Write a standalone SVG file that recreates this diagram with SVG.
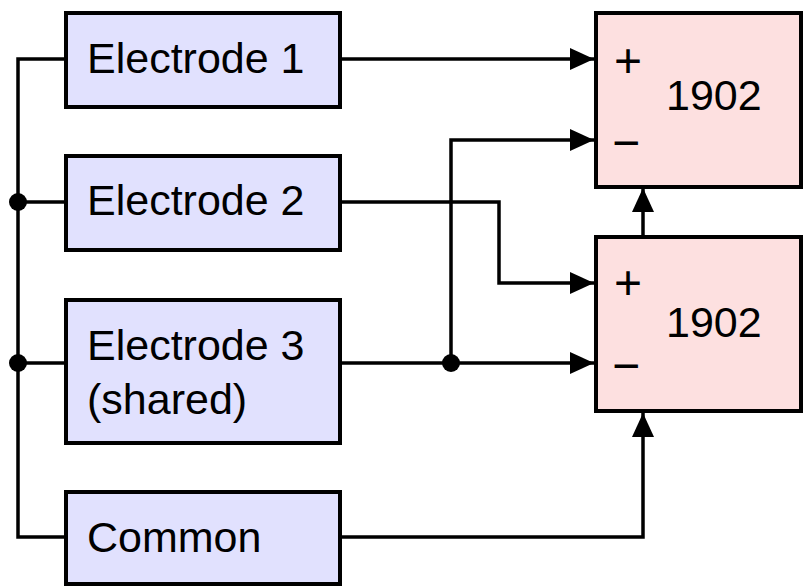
<svg xmlns="http://www.w3.org/2000/svg" width="803" height="586" viewBox="0 0 803 586">
  <style>
    .src rect { fill: #e1e1fe; stroke: #000; stroke-width: 4; }
    .amp rect { fill: #fde0e0; stroke: #000; stroke-width: 4; }
    text { font-family: "Liberation Sans", Arial, sans-serif; font-size: 43px; fill: #000; }
    text.sign { font-size: 48px; }
    .wire { fill: none; stroke: #000; stroke-width: 3.5; }
    .arrow { marker-end: url(#head); }
  </style>
  <defs>
    <marker id="head" viewBox="0 0 24 22" refX="24" refY="11" markerWidth="24" markerHeight="22" markerUnits="userSpaceOnUse" orient="auto">
      <path d="M0,0 L24,11 L0,22 Z" fill="#000"/>
    </marker>
  </defs>

  <g id="connectors">
    <!-- common bus on the left -->
    <path class="wire" d="M65,59 H18 V537 H65"/>
    <path class="wire" d="M18,202 H65"/>
    <path class="wire" d="M18,363 H65"/>
    <circle cx="18" cy="202" r="9"/>
    <circle cx="18" cy="363" r="9"/>
    <!-- electrode 1 to upper + -->
    <path class="wire arrow" d="M340,59 H594"/>
    <!-- electrode 3 tap to upper - -->
    <path class="wire arrow" d="M451,363 V140 H594"/>
    <!-- electrode 2 to lower + -->
    <path class="wire arrow" d="M340,202 H499 V283 H594"/>
    <!-- electrode 3 to lower - -->
    <path class="wire arrow" d="M340,363 H594"/>
    <circle cx="451" cy="363" r="9"/>
    <!-- common to lower amplifier reference -->
    <path class="wire arrow" d="M340,537 H643 V413"/>
    <!-- lower amplifier output to upper reference -->
    <path class="wire arrow" d="M643,236 V188"/>
  </g>

  <g id="electrode1" class="src">
    <rect x="66" y="13" width="274" height="94"/>
    <text x="87" y="73">Electrode 1</text>
  </g>
  <g id="electrode2" class="src">
    <rect x="66" y="156" width="274" height="94"/>
    <text x="87" y="215">Electrode 2</text>
  </g>
  <g id="electrode3" class="src">
    <rect x="66" y="300" width="274" height="143"/>
    <text x="87" y="360">Electrode 3</text>
    <text x="87" y="414">(shared)</text>
  </g>
  <g id="common" class="src">
    <rect x="66" y="492" width="274" height="92"/>
    <text x="87" y="552">Common</text>
  </g>

  <g id="amp-upper" class="amp">
    <rect x="596" y="13" width="205" height="174"/>
    <text class="sign" x="614" y="77">+</text>
    <text class="sign" x="612" y="159">−</text>
    <text x="666" y="110">1902</text>
  </g>
  <g id="amp-lower" class="amp">
    <rect x="596" y="237" width="205" height="174"/>
    <text class="sign" x="614" y="299">+</text>
    <text class="sign" x="612" y="382">−</text>
    <text x="666" y="337">1902</text>
  </g>
</svg>
